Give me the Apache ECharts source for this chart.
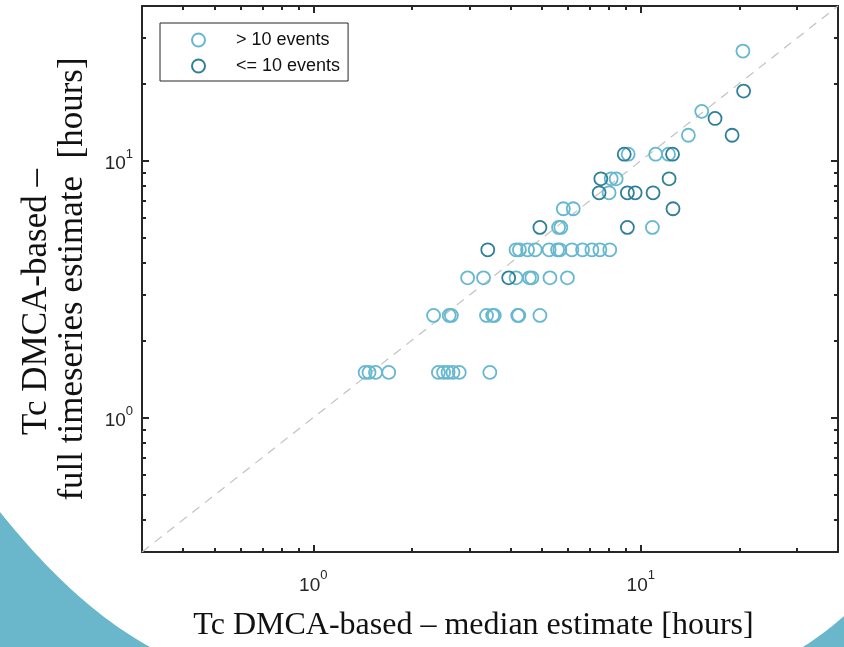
<!DOCTYPE html>
<html lang="en">
<head>
    <meta charset="UTF-8"/>
    <script src="https://cdn.jsdelivr.net/npm/echarts@6/dist/echarts.min.js"></script>
    <title>Tc comparison</title>
</head>
<body style="margin:0; background:#fff;">
<div id="main" style="width:844px; height:647px;"></div>
<script type="text/javascript">
    // point data, [median estimate, full timeseries estimate] in hours
    var manyEvents = [
        [1.44, 1.5], [1.48, 1.5], [1.55, 1.5], [1.70, 1.5], [2.41, 1.5], [2.50, 1.5],
        [2.58, 1.5], [2.67, 1.5], [2.79, 1.5], [3.46, 1.5],
        [2.33, 2.5], [2.60, 2.5], [2.64, 2.5], [3.38, 2.5], [3.53, 2.5], [3.57, 2.5],
        [4.21, 2.5], [4.24, 2.5], [4.92, 2.5],
        [2.96, 3.5], [3.31, 3.5], [4.16, 3.5], [4.57, 3.5], [4.65, 3.5], [5.28, 3.5], [5.97, 3.5],
        [4.16, 4.5], [4.26, 4.5], [4.51, 4.5], [4.76, 4.5], [5.25, 4.5], [5.57, 4.5],
        [5.66, 4.5], [6.16, 4.5], [6.64, 4.5], [7.09, 4.5], [7.50, 4.5], [8.04, 4.5],
        [5.61, 5.5], [5.70, 5.5], [10.85, 5.5],
        [5.80, 6.5], [6.22, 6.5],
        [8.00, 7.5],
        [8.12, 8.5], [8.41, 8.5],
        [9.15, 10.6], [11.1, 10.6], [12.15, 10.6],
        [13.97, 12.56], [15.35, 15.56], [20.5, 26.7]
    ];
    var fewEvents = [
        [3.95, 3.5],
        [3.41, 4.5],
        [4.92, 5.5], [9.10, 5.5],
        [12.54, 6.5],
        [7.46, 7.5], [9.10, 7.5], [9.61, 7.5], [10.9, 7.5],
        [7.55, 8.5], [12.2, 8.5],
        [8.90, 10.6], [12.5, 10.6],
        [19.0, 12.56], [16.85, 14.6], [20.6, 18.66]
    ];
    var seriesNames = ['> 10 events', '<= 10 events'];
    var axisRange = [0.3, 40];
    var majorTicks = [1, 10];
    var minorTicks = [0.4, 0.5, 0.6, 0.7, 0.8, 0.9, 2, 3, 4, 5, 6, 7, 8, 9, 20, 30];

    var lightColor = '#66b8d0';
    var darkColor = '#2e7f97';
    var axisColor = '#262626';
    var sansFont = 'Liberation Sans';
    var serifFont = 'Liberation Serif';

    function powLabel(v) {
        return '{b|10}{e|' + Math.round(Math.log10(v)) + '}';
    }
    var powRich = {
        b: {fontSize: 19, fontFamily: sansFont, color: axisColor, padding: [7, 0, 0, 0]},
        e: {fontSize: 13, fontFamily: sansFont, color: axisColor, verticalAlign: 'top'}
    };

    // decorative slide corners: quadratic curve sampled into a polygon
    function cornerShape(p0, c, p2, corner) {
        var pts = [];
        for (var i = 0; i <= 30; i++) {
            var t = i / 30, u = 1 - t;
            pts.push([u * u * p0[0] + 2 * u * t * c[0] + t * t * p2[0],
                      u * u * p0[1] + 2 * u * t * c[1] + t * t * p2[1]]);
        }
        pts.push(corner);
        return pts;
    }

    // one axis per side for the major ticks, one more for the short minor ticks
    function makeAxis(position, major, extra) {
        var ax = {
            type: 'log',
            logBase: 10,
            min: axisRange[0],
            max: axisRange[1],
            position: position,
            axisLine: {show: major, onZero: false, lineStyle: {color: axisColor, width: 2}},
            axisTick: {
                show: true, inside: true,
                length: major ? 7 : 4,
                customValues: major ? majorTicks : minorTicks,
                lineStyle: {color: axisColor, width: 2}
            },
            axisLabel: {show: false},
            splitLine: {show: false}
        };
        for (var k in extra) ax[k] = extra[k];
        return ax;
    }

    var myChart = echarts.init(document.getElementById('main'));

    var option = {
        backgroundColor: '#fff',
        animation: false,
        grid: {left: 142, top: 6, width: 696, height: 550},
        graphic: [
            {type: 'polygon', z: -1, silent: true,
                shape: {points: cornerShape([0, 512], [75, 606], [150, 647], [0, 647])},
                style: {fill: '#6ab6cb'}},
            {type: 'polygon', z: -1, silent: true,
                shape: {points: cornerShape([803, 647], [825, 633], [844, 616], [844, 647])},
                style: {fill: '#6ab6cb'}}
        ],
        legend: {
            orient: 'vertical',
            left: 160,
            top: 23,
            padding: [8, 8, 6, 31],
            itemGap: 8,
            itemWidth: 13,
            itemHeight: 13,
            borderColor: axisColor,
            borderWidth: 1,
            backgroundColor: '#fff',
            textStyle: {fontSize: 18, fontFamily: sansFont, color: '#111', padding: [0, 0, 0, 26]},
            data: seriesNames
        },
        xAxis: [
            makeAxis('bottom', true, {
                axisLabel: {show: true, customValues: majorTicks, margin: 17, formatter: powLabel, rich: powRich},
                name: 'Tc DMCA-based – median estimate [hours]',
                nameLocation: 'middle',
                nameGap: 58,
                nameTextStyle: {fontSize: 32, fontFamily: serifFont, color: '#111', padding: [0, 33, 0, 0]}
            }),
            makeAxis('bottom', false, {}),
            makeAxis('top', true, {}),
            makeAxis('top', false, {})
        ],
        yAxis: [
            makeAxis('left', true, {
                axisLabel: {show: true, customValues: majorTicks, margin: 9, formatter: powLabel, rich: powRich},
                name: '{a|Tc DMCA-based –}\n{b|full timeseries estimate  [hours]}',
                nameLocation: 'middle',
                nameGap: 51,
                nameTextStyle: {
                    fontSize: 35, fontFamily: serifFont, color: '#111', lineHeight: 36,
                    rich: {
                        a: {fontSize: 35, fontFamily: serifFont, color: '#111', lineHeight: 36, padding: [0, 46, 0, 0]},
                        b: {fontSize: 35, fontFamily: serifFont, color: '#111', lineHeight: 36}
                    }
                }
            }),
            makeAxis('left', false, {}),
            makeAxis('right', true, {}),
            makeAxis('right', false, {})
        ],
        series: [
            {
                type: 'line',
                data: [[axisRange[0], axisRange[0]], [axisRange[1], axisRange[1]]],
                symbol: 'none',
                silent: true,
                lineStyle: {color: '#c2c2c2', width: 1.2, type: [9, 7]},
                z: 1
            },
            {
                name: seriesNames[0],
                type: 'scatter',
                data: manyEvents,
                symbol: 'circle',
                symbolSize: 13,
                itemStyle: {color: 'rgba(0,0,0,0)', borderColor: lightColor, borderWidth: 1.8, opacity: 1},
                z: 2
            },
            {
                name: seriesNames[1],
                type: 'scatter',
                data: fewEvents,
                symbol: 'circle',
                symbolSize: 13,
                itemStyle: {color: 'rgba(0,0,0,0)', borderColor: darkColor, borderWidth: 1.8, opacity: 1},
                z: 3
            }
        ]
    };

    myChart.setOption(option);
</script>
</body>
</html>
